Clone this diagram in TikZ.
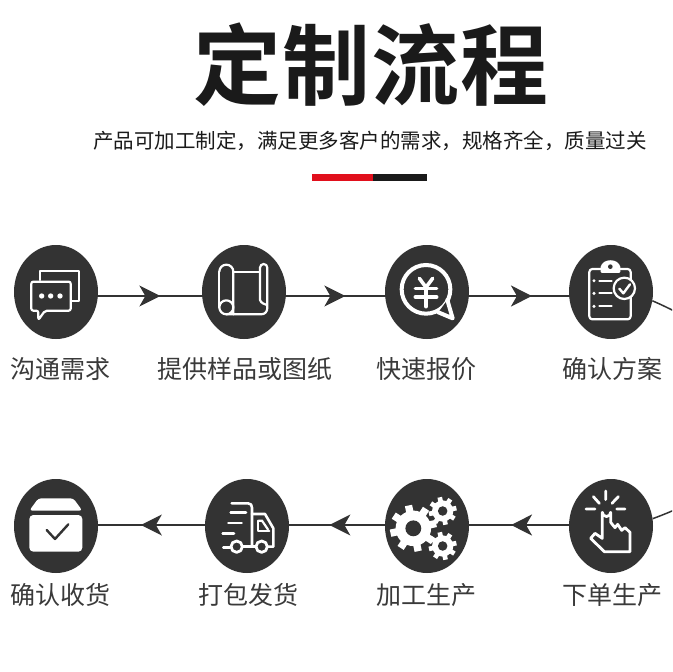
\documentclass[tikz,border=0pt]{standalone}
\usepackage{fontspec}
\setmainfont{Noto Sans CJK SC}
\newfontfamily\titlefont[AutoFakeBold=2.6]{Noto Sans CJK SC Bold}
\usetikzlibrary{shapes.geometric,arrows.meta,decorations.markings}
\definecolor{dk}{HTML}{333333}
\definecolor{ink}{HTML}{1A1A1A}
\definecolor{lab}{HTML}{3A3A3A}
\definecolor{redbar}{HTML}{E10F1C}
\tikzset{
  disc/.style={ellipse,fill=dk,minimum width=84pt,minimum height=94pt,inner sep=0pt},
  lbl/.style={text=lab,inner sep=0pt,font=\fontsize{25}{25}\selectfont},
  link/.style={draw=dk,line width=1.5pt},
  tipat/.style={postaction={decorate},decoration={markings,mark=at position #1 with {\arrow{Stealth[length=21pt,width=21pt,inset=6pt]}}}},
  ic/.style={draw=white,line width=2.2pt,line cap=round,line join=round},
  zoomA/.style={shift={(0,230)},scale=1/3},
  zoomB/.style={shift={(340,230)},scale=1/3},
  zoomC/.style={shift={(0,465)},scale=1/3},
  zoomD/.style={shift={(340,465)},scale=1/3},
}
\newcommand\gearicon[4]{% x y radius tooth half width
  \foreach \a in {0,45,...,315}{
    \fill[white,rotate around={\a+12:(#1,#2)}] (#1-#4,#2) rectangle (#1+#4,#2-#3);
  }
  \fill[white] (#1,#2) circle[radius=#3*0.76];
  \fill[dk] (#1,#2) circle[radius=#3*0.34];
}
\begin{document}
\begin{tikzpicture}[x=1pt,y=-1pt]
\useasboundingbox (0,0) rectangle (672,672);
\clip (0,0) rectangle (672,672);
\fill[white] (0,0) rectangle (672,672);
% heading
\node[inner sep=0pt,text=ink] (title) at (371,65) {\titlefont\fontsize{88}{88}\selectfont\addfontfeatures{LetterSpace=1.5}定制流程};
\node[inner sep=0pt,text=ink] (sub) at (370,141) {\fontsize{20.5}{21}\selectfont 产品可加工制定，满足更多客户的需求，规格齐全，质量过关};
\fill[redbar] (312,174) rectangle (373,181);
\fill[ink] (373,174) rectangle (427,181);
% discs
\node[disc] (c1) at (56,292) {};
\node[disc] (c2) at (244,292) {};
\node[disc] (c3) at (427,292) {};
\node[disc] (c4) at (611,292) {};
\node[disc] (c5) at (611,526) {};
\node[disc] (c6) at (427,526) {};
\node[disc] (c7) at (247,526) {};
\node[disc] (c8) at (56,526) {};
% labels
\node[lbl] (l1) at (60,369) {沟通需求};
\node[lbl] (l2) at (245,369) {提供样品或图纸};
\node[lbl] (l3) at (426,369) {快速报价};
\node[lbl] (l4) at (612,369) {确认方案};
\node[lbl] (l5) at (612,595) {下单生产};
\node[lbl] (l6) at (426,595) {加工生产};
\node[lbl] (l7) at (248,595) {打包发货};
\node[lbl] (l8) at (60,595) {确认收货};
% connectors
\path[link,tipat=0.6] ([yshift=-4pt]c1.east) -- ([yshift=-4pt]c2.west);
\path[link,tipat=0.6] ([yshift=-4pt]c2.east) -- ([yshift=-4pt]c3.west);
\path[link,tipat=0.63] ([yshift=-4pt]c3.east) -- ([yshift=-4pt]c4.west);
\path[link] (c4.-12) .. controls (800,365) and (800,465) .. (c5.10);
\path[link,tipat=0.58] ([yshift=1pt]c5.west) -- ([yshift=1pt]c6.east);
\path[link,tipat=0.58] ([yshift=1pt]c6.west) -- ([yshift=1pt]c7.east);
\path[link,tipat=0.6] ([yshift=1pt]c7.west) -- ([yshift=1pt]c8.east);
% icon 1: chat
\begin{scope}[zoomA]
\draw[ic] (120,150) -- (120,123) -- (238,123) -- (238,213) -- (217,213);
\draw[ic,rounded corners=2pt] (94,155) -- (212,155) -- (212,242) -- (135,242) -- (115,270) -- (115,242) -- (94,242) -- cycle;
\fill[white] (125,198) circle[radius=8] (152,198) circle[radius=8] (180,198) circle[radius=8];
\end{scope}
% icon 2: scroll
\begin{scope}[shift={(205,255)},scale=1/3]
\draw[ic] (43,50) arc[start angle=180,end angle=360,radius=21] -- (85,178);
\draw[ic] (43,50) -- (43,157);
\draw[ic] (64,157) circle[radius=21];
\draw[ic] (64,178) -- (168,178) .. controls (180,178) and (187,170) .. (187,158) -- (187,38) arc[start angle=0,end angle=-180,radius=11] -- (165,135) .. controls (168,145) and (180,148) .. (187,150);
\draw[ic] (85,50) -- (165,50);
\end{scope}
% icon 3: yen bubble
\begin{scope}[shift={(390,255)},scale=1/3]
\draw[white,line width=4pt] (108,103) circle[radius=73];
\draw[ic,line width=4pt,fill=dk] (172,135) -- (188,190) -- (145,172);
\draw[white,line width=3.6pt,line cap=round] (88,70) -- (108,97) -- (128,70);
\draw[white,line width=3.6pt,line cap=round] (76,100) -- (140,100) (76,126) -- (140,126) (108,97) -- (108,155);
\end{scope}
% icon 4: clipboard
\begin{scope}[zoomB]
\draw[ic,rounded corners=3pt] (785,117) -- (748,117) -- (748,268) -- (872,268) -- (872,117) -- (838,117);
\draw[ic,fill=white] (785,125) -- (785,112) .. controls (790,88) and (833,88) .. (838,112) -- (838,125) -- cycle;
\fill[dk] (811,110) circle[radius=7];
\foreach \yy in {152,190,229}{
  \fill[white] (762,\yy) circle[radius=5];
  \draw[ic] (778,\yy) -- (815,\yy);
}
\draw[ic,fill=dk] (853,175) circle[radius=32];
\draw[white,line width=2.4pt,line cap=round,line join=round] (838,176) -- (850,190) -- (870,163);
\end{scope}
% icon 5: hand
\begin{scope}[shift={(575,485)},scale=1/3]
\draw[ic,line width=2.8pt] (92,18) -- (92,44) (55,35) -- (73,55) (130,35) -- (111,55) (33,72) -- (60,72) (125,72) -- (150,72);
\draw[ic,line width=2.8pt] (82,160) -- (82,82) arc[start angle=180,end angle=0,radius=12.5] -- (107,112) -- (120,128) -- (128,118) -- (140,136) -- (150,128) -- (165,142) -- (165,200) -- (88,200) -- (47,160) -- (60,145) -- cycle;
\end{scope}
% icon 6: gears
\begin{scope}[zoomD]
\gearicon{220}{190}{70}{11}
\gearicon{308}{138}{42}{7}
\gearicon{308}{243}{42}{7}
\end{scope}
% icon 7: truck
\begin{scope}[shift={(210,490)},scale=1/3]
\draw[ic,line width=2.6pt] (65,40) -- (114,40) .. controls (122,40) and (126,45) .. (126,53) -- (126,170);
\draw[ic,line width=2.6pt] (62,68) -- (108,68) (55,99) -- (95,99) (38,130) -- (72,130) (40,172) -- (60,172) (100,170) -- (135,170);
\draw[ic,line width=2.6pt] (126,72) -- (165,72) -- (190,115) -- (190,170) -- (175,170);
\draw[ic,line width=2.2pt] (145,92) -- (145,122) -- (178,122);
\draw[white,line width=2.2pt] (145,92) -- (156,92) -- (175,120);
\draw[ic,line width=2.8pt] (80,170) circle[radius=17] (155,170) circle[radius=17];
\end{scope}
% icon 8: box
\begin{scope}[zoomC]
\fill[white,rounded corners=3pt] (88,137) -- (115,100) -- (220,100) -- (247,137) -- cycle;
\fill[white,rounded corners=4pt] (88,150) rectangle (247,260);
\draw[dk,line width=2.4pt,line cap=round,line join=round] (140,195) -- (165,222) -- (205,178);
\end{scope}
\end{tikzpicture}
\end{document}
